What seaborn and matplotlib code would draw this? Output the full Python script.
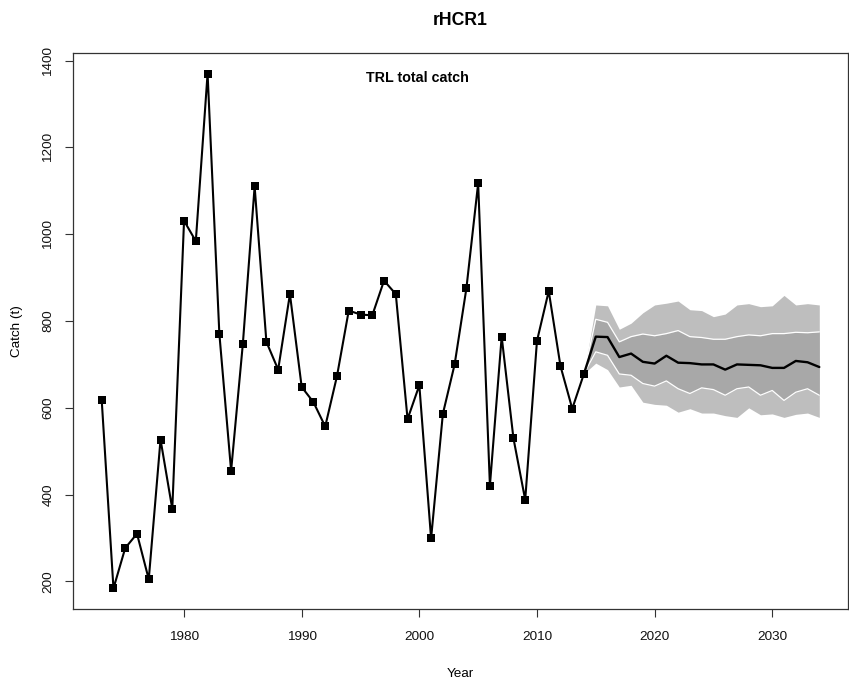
import numpy as np
import pandas as pd
import matplotlib
matplotlib.use("Agg")
import matplotlib.pyplot as plt
import seaborn as sns

# Observed total catch (t)
hist_years = np.arange(1973, 2015)
hist_catch = [618, 184, 277, 310, 205, 527, 367, 1031, 984, 1370,
              771, 455, 748, 1110, 752, 688, 862, 648, 613, 557,
              673, 824, 815, 813, 893, 862, 574, 652, 299, 586,
              700, 875, 1117, 421, 764, 530, 388, 754, 869, 696,
              598, 679]

# Projected catch under rHCR1: median and percentile envelopes
proj_years = np.arange(2015, 2035)
proj_median = [764, 763, 717, 725, 706, 702, 720, 704, 703, 700,
               700, 688, 700, 699, 698, 692, 692, 708, 705, 694]
inner_hi = [804, 797, 752, 764, 770, 766, 771, 778, 764, 762,
            758, 758, 764, 768, 766, 771, 771, 774, 773, 775]
inner_lo = [729, 721, 678, 675, 656, 650, 662, 644, 633, 646,
            642, 629, 644, 648, 629, 640, 617, 636, 644, 629]
outer_hi = [837, 835, 781, 795, 819, 837, 841, 846, 826, 824,
            810, 816, 837, 840, 833, 835, 859, 837, 840, 837]
outer_lo = [703, 688, 648, 652, 613, 608, 606, 590, 598, 588,
            588, 582, 578, 600, 584, 586, 578, 585, 588, 578]

x_ticks = [1980, 1990, 2000, 2010, 2020, 2030]
y_ticks = [200, 400, 600, 800, 1000, 1200, 1400]

sns.set_style("white")
plt.rcParams["font.family"] = ["Liberation Sans", "DejaVu Sans"]
plt.rcParams["text.color"] = "black"
plt.rcParams["axes.labelcolor"] = "black"

hist = pd.DataFrame({"Year": hist_years, "Catch": hist_catch})
# projections start from the last observed year
last_year, last_catch = hist_years[-1], hist_catch[-1]
proj = pd.DataFrame({
    "Year": np.concatenate([[last_year], proj_years]),
    "median": [last_catch] + proj_median,
    "inner_hi": [last_catch] + inner_hi,
    "inner_lo": [last_catch] + inner_lo,
    "outer_hi": [last_catch] + outer_hi,
    "outer_lo": [last_catch] + outer_lo,
})

fig = plt.figure(figsize=(8.49, 6.8), dpi=100)
ax = fig.add_axes([73 / 849, 1 - 609 / 680, 775 / 849, 556 / 680])

ax.fill_between(proj["Year"], proj["outer_lo"], proj["outer_hi"],
                color="#bebebe", linewidth=0, zorder=1)
ax.fill_between(proj["Year"], proj["inner_lo"], proj["inner_hi"],
                color="#a8a8a8", linewidth=0, zorder=2)
sns.lineplot(data=proj, x="Year", y="inner_hi", color="white",
             linewidth=0.9, ax=ax, zorder=3)
sns.lineplot(data=proj, x="Year", y="inner_lo", color="white",
             linewidth=0.9, ax=ax, zorder=3)
sns.lineplot(data=proj, x="Year", y="median", color="black",
             linewidth=1.7, ax=ax, zorder=4)
sns.lineplot(data=hist, x="Year", y="Catch", color="black",
             linewidth=1.5, marker="s", markersize=5.8,
             markeredgewidth=0, ax=ax, zorder=5)

span_x = 2034 - 1973
ax.set_xlim(1973 - 0.04 * span_x, 2034 + 0.04 * span_x)
span_y = 1370 - 184
ax.set_ylim(184 - 0.04 * span_y, 1370 + 0.04 * span_y)

ax.set_xticks(x_ticks)
ax.set_yticks(y_ticks)
ax.set_yticklabels([str(v) for v in y_ticks], rotation=90, va="center")
ax.tick_params(axis="both", which="major", direction="out", length=5.5,
               width=0.8, color="#333333", labelsize=9.7, pad=8,
               bottom=True, left=True, labelcolor="#111111")
ax.tick_params(axis="x", pad=10)
for s in ax.spines.values():
    s.set_color("#333333")
    s.set_linewidth(0.9)

ax.set_xlabel("Year", fontsize=9.7, labelpad=18)
ax.set_ylabel("Catch (t)", fontsize=9.7, labelpad=14)
ax.set_title("rHCR1", fontsize=12.7, fontweight="bold", pad=20)
ax.text(0.445, 0.968, "TRL total catch", transform=ax.transAxes,
        fontsize=10.3, fontweight="bold", ha="center", va="top")

fig.savefig("out.png", dpi=100)
